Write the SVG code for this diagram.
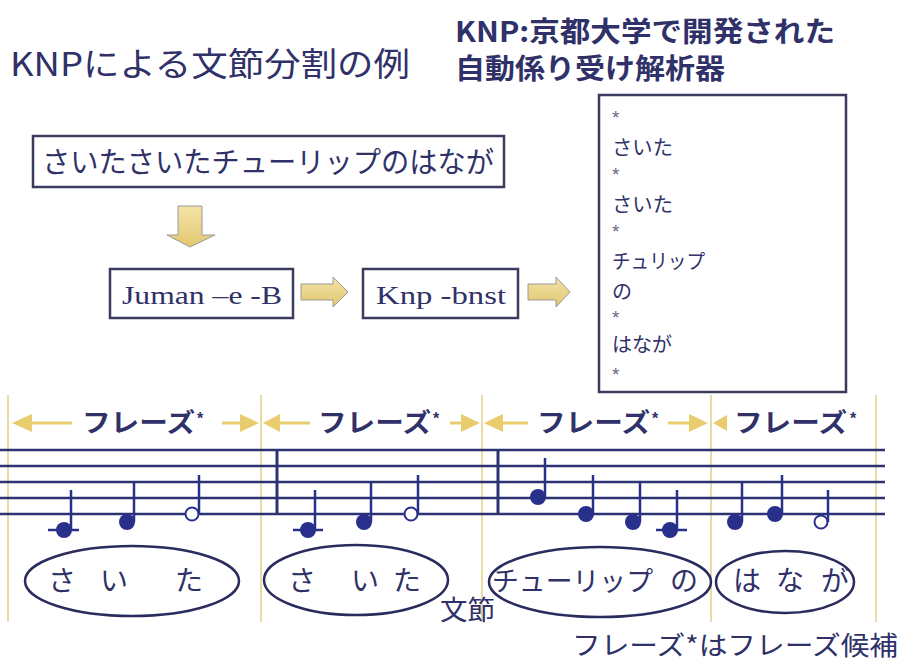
<svg xmlns="http://www.w3.org/2000/svg" width="905" height="662" viewBox="0 0 905 662">
<defs>
<linearGradient id="yg" x1="0" y1="0" x2="0" y2="1">
<stop offset="0" stop-color="#f3e3a6"/><stop offset="1" stop-color="#e2c770"/>
</linearGradient>
<style>
.jp{font-family:"Noto Sans CJK JP","Noto Sans",sans-serif;fill:#2f3168}
.tm{font-family:"Liberation Serif",serif;fill:#2f3168;font-size:25px}
.box{fill:#fff;stroke:#3a3b5e;stroke-width:2.5}
.yarrow{fill:url(#yg);stroke:#9a9a9a;stroke-width:1}
.vl{stroke:#e8dba6;stroke-width:2}
.st{stroke:#2c3272;stroke-width:2.5}
.bar{stroke:#2c3272;stroke-width:3}
.ya{fill:#e8cc6e}
.yl{stroke:#e8cc6e;stroke-width:3}
.nh{fill:#28308c}
.ho{fill:#fff;stroke:#28308c;stroke-width:2}
.stem{stroke:#28308c;stroke-width:2.5}
.ell{fill:none;stroke:#2a2c5e;stroke-width:2.5}
.ph{font-family:"Noto Sans CJK JP",sans-serif;font-weight:bold;font-size:26px;fill:#2f3168}
.ast{font-family:"Liberation Sans",sans-serif;font-weight:bold;font-size:16px;fill:#2f3168}
.bl{font-family:"Noto Sans CJK JP",sans-serif;font-size:20px;fill:#2f3168}
.sa{font-family:"Liberation Sans",sans-serif;font-size:19px;fill:#6a6a7a}
.ch{font-family:"Noto Sans CJK JP",sans-serif;font-size:28px;fill:#2f3168;text-anchor:middle}
</style>
</defs>
<rect width="905" height="662" fill="#fff"/>

<g id="title">
<text class="jp" x="10" y="76" font-size="33" textLength="400" lengthAdjust="spacingAndGlyphs">KNPによる文節分割の例</text>
</g>
<g id="knp-note">
<text class="jp" x="455" y="42" font-size="28" font-weight="bold" textLength="380" lengthAdjust="spacingAndGlyphs">KNP:京都大学で開発された</text>
<text class="jp" x="455" y="79" font-size="28" font-weight="bold" textLength="270" lengthAdjust="spacingAndGlyphs">自動係り受け解析器</text>
</g>

<g id="input">
<rect class="box" x="33" y="136" width="471" height="51"/>
<text class="jp" x="42" y="173" font-size="29" textLength="452" lengthAdjust="spacingAndGlyphs">さいたさいたチューリップのはなが</text>
</g>

<g id="juman">
<rect class="box" x="110" y="269" width="183" height="49"/>
<text class="tm" x="122" y="304" textLength="160" lengthAdjust="spacingAndGlyphs">Juman –e -B</text>
</g>
<g id="knp">
<rect class="box" x="363" y="269" width="155" height="49"/>
<text class="tm" x="376" y="304" textLength="130" lengthAdjust="spacingAndGlyphs">Knp -bnst</text>
</g>

<g id="output">
<rect class="box" x="599" y="95" width="247" height="297"/>
<text class="sa" x="612" y="124">*</text>
<text class="bl" x="612" y="155" textLength="61" lengthAdjust="spacingAndGlyphs">さいた</text>
<text class="sa" x="612" y="181">*</text>
<text class="bl" x="612" y="212" textLength="61" lengthAdjust="spacingAndGlyphs">さいた</text>
<text class="sa" x="612" y="238">*</text>
<text class="bl" x="612" y="269" textLength="93" lengthAdjust="spacingAndGlyphs">チュリップ</text>
<text class="bl" x="612" y="299">の</text>
<text class="sa" x="612" y="324">*</text>
<text class="bl" x="612" y="352" textLength="60" lengthAdjust="spacingAndGlyphs">はなが</text>
<text class="sa" x="612" y="381">*</text>
</g>

<g id="connectors">
<polygon class="yarrow" points="178,206 202,206 202,235 215,235 190,247 167,235 178,235"/>
<polygon class="yarrow" points="301,284 333,284 333,277 348,292 333,307 333,300 301,300"/>
<polygon class="yarrow" points="528,284 556,284 556,277 570,292 556,307 556,300 528,300"/>
</g>

<g id="phrase-dividers">
<line class="vl" x1="8" y1="395" x2="8" y2="622"/>
<line class="vl" x1="261" y1="395" x2="261" y2="622"/>
<line class="vl" x1="482" y1="395" x2="482" y2="622"/>
<line class="vl" x1="711" y1="395" x2="711" y2="622"/>
<line class="vl" x1="876" y1="395" x2="876" y2="622"/>
</g>

<g id="phrase-labels">
<polygon class="ya" points="12,423 32,414 32,432"/>
<line class="yl" x1="32" y1="423" x2="72" y2="423"/>
<text class="ph" x="82" y="432" textLength="113" lengthAdjust="spacingAndGlyphs">フレーズ</text>
<text class="ast" x="197" y="424">*</text>
<line class="yl" x1="222" y1="423" x2="240" y2="423"/>
<polygon class="ya" points="240,414 240,432 259,423"/>

<polygon class="ya" points="263,423 280,414 280,432"/>
<line class="yl" x1="280" y1="423" x2="310" y2="423"/>
<text class="ph" x="318" y="432" textLength="113" lengthAdjust="spacingAndGlyphs">フレーズ</text>
<text class="ast" x="433" y="424">*</text>
<line class="yl" x1="450" y1="423" x2="461" y2="423"/>
<polygon class="ya" points="461,414 461,432 480,423"/>

<polygon class="ya" points="484,423 503,414 503,432"/>
<line class="yl" x1="503" y1="423" x2="528" y2="423"/>
<text class="ph" x="537" y="432" textLength="113" lengthAdjust="spacingAndGlyphs">フレーズ</text>
<text class="ast" x="652" y="424">*</text>
<line class="yl" x1="668" y1="423" x2="689" y2="423"/>
<polygon class="ya" points="689,414 689,432 708,423"/>

<polygon class="ya" points="713,423 727,415 727,431"/>
<text class="ph" x="734" y="432" textLength="113" lengthAdjust="spacingAndGlyphs">フレーズ</text>
<text class="ast" x="850" y="424">*</text>
</g>

<g id="staff">
<line class="st" x1="0" y1="450" x2="885" y2="450"/>
<line class="st" x1="0" y1="466" x2="885" y2="466"/>
<line class="st" x1="0" y1="482" x2="885" y2="482"/>
<line class="st" x1="0" y1="498" x2="885" y2="498"/>
<line class="st" x1="0" y1="514" x2="885" y2="514"/>
<line class="bar" x1="277" y1="450" x2="277" y2="515"/>
<line class="bar" x1="498" y1="450" x2="498" y2="515"/>
</g>

<g id="notes">
<line class="stem" x1="48" y1="530" x2="79" y2="530"/>
<circle class="nh" cx="64" cy="530" r="8"/><line class="stem" x1="71" y1="490" x2="71" y2="530"/>
<circle class="nh" cx="127" cy="522" r="8"/><line class="stem" x1="134" y1="482" x2="134" y2="522"/>
<circle class="ho" cx="192" cy="514" r="6.5"/><line class="stem" x1="199" y1="475" x2="199" y2="514"/>

<line class="stem" x1="293" y1="530" x2="323" y2="530"/>
<circle class="nh" cx="308" cy="530" r="8"/><line class="stem" x1="315" y1="490" x2="315" y2="530"/>
<circle class="nh" cx="364" cy="522" r="8"/><line class="stem" x1="371" y1="482" x2="371" y2="522"/>
<circle class="ho" cx="411" cy="514" r="6.5"/><line class="stem" x1="418" y1="475" x2="418" y2="514"/>

<circle class="nh" cx="538" cy="497" r="8"/><line class="stem" x1="545" y1="458" x2="545" y2="497"/>
<circle class="nh" cx="586" cy="514" r="8"/><line class="stem" x1="593" y1="475" x2="593" y2="514"/>
<circle class="nh" cx="633" cy="522" r="8"/><line class="stem" x1="640" y1="482" x2="640" y2="522"/>
<line class="stem" x1="656" y1="530" x2="687" y2="530"/>
<circle class="nh" cx="670" cy="530" r="8"/><line class="stem" x1="677" y1="490" x2="677" y2="530"/>

<circle class="nh" cx="735" cy="522" r="8"/><line class="stem" x1="742" y1="482" x2="742" y2="522"/>
<circle class="nh" cx="775" cy="514" r="8"/><line class="stem" x1="782" y1="475" x2="782" y2="514"/>
<circle class="ho" cx="821" cy="522" r="6.5"/><line class="stem" x1="828" y1="490" x2="828" y2="522"/>
</g>

<g id="bunsetsu1">
<ellipse class="ell" cx="132" cy="581" rx="107" ry="35"/>
<text class="ch" x="62" y="591">さ</text><text class="ch" x="114" y="591">い</text><text class="ch" x="189" y="591">た</text>
</g>
<g id="bunsetsu2">
<ellipse class="ell" cx="356" cy="580" rx="92" ry="35"/>
<text class="ch" x="302" y="591">さ</text><text class="ch" x="365" y="591">い</text><text class="ch" x="407" y="591">た</text>
</g>
<g id="bunsetsu3">
<ellipse class="ell" cx="600" cy="582" rx="111" ry="35"/>
<text class="jp" x="492" y="591" font-size="27" textLength="161" lengthAdjust="spacingAndGlyphs">チューリップ</text>
<text class="ch" x="684" y="591" font-size="27">の</text>
</g>
<g id="bunsetsu4">
<ellipse class="ell" cx="785" cy="582" rx="69" ry="31"/>
<text class="ch" x="747" y="591">は</text><text class="ch" x="790" y="591">な</text><text class="ch" x="835" y="591">が</text>
</g>

<g id="labels">
<text class="jp" x="440" y="620" font-size="27" textLength="55" lengthAdjust="spacingAndGlyphs">文節</text>
<text class="jp" x="572" y="655" font-size="26" textLength="326" lengthAdjust="spacingAndGlyphs">フレーズ*はフレーズ候補</text>
</g>
</svg>
